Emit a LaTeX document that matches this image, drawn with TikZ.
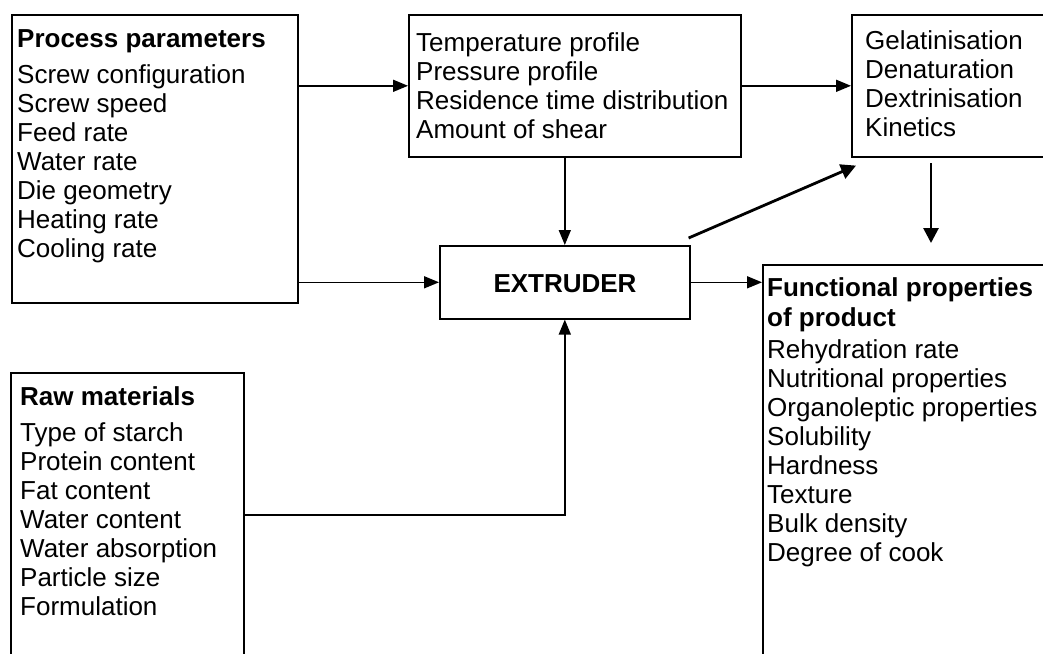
\documentclass[tikz,border=0pt]{standalone}
\usepackage{fontspec}
\setmainfont{Liberation Sans}
\usetikzlibrary{arrows.meta}
\newcommand{\firststrut}{\rule{0pt}{21pt}}
\tikzset{
  box/.style={draw=black, line width=1.6pt, rectangle, inner sep=0pt, anchor=north west},
  txt/.style={inner sep=0pt, anchor=north west, align=left, font=\fontsize{26}{29}\selectfont},
  conn/.style={draw=black, line width=1.6pt, -{Triangle[length=15pt,width=12pt]}},
  thickconn/.style={draw=black, line width=2.8pt, -{Triangle[length=15pt,width=15pt]}}
}
\begin{document}
\begin{tikzpicture}[x=1pt,y=-1pt]
\useasboundingbox (0,0) rectangle (1043,653);
\clip (0,0) rectangle (1043,653);
\fill[white] (0,0) rectangle (1043,653);

% boxes
\node[box, minimum width=286pt, minimum height=288pt] (proc) at (11,14) {};
\node[box, minimum width=332pt, minimum height=142pt] (cond) at (408,14) {};
\node[box, minimum width=200pt, minimum height=142pt] (react) at (851,14) {};
\node[box, minimum width=250pt, minimum height=73pt] (ext) at (439,245) {};
\node[box, minimum width=300pt, minimum height=440pt] (func) at (762,264) {};
\node[box, minimum width=233pt, minimum height=330pt] (raw) at (10,372) {};

% texts (first baseline = y + 21)
\node[txt] (proctxt) at (17,26) {\firststrut\textbf{Process parameters}\\[7pt]
Screw configuration\\ Screw speed\\ Feed rate\\ Water rate\\ Die geometry\\ Heating rate\\ Cooling rate};
\node[txt] (condtxt) at (416,30) {\firststrut Temperature profile\\ Pressure profile\\ Residence time distribution\\ Amount of shear};
\node[txt] (reacttxt) at (865,28) {\firststrut Gelatinisation\\ Denaturation\\ Dextrinisation\\ Kinetics};
\node[inner sep=0pt, anchor=base, font=\fontsize{26}{29}\selectfont\bfseries] (exttxt) at (565,292) {EXTRUDER};
\node[txt] (functxt) at (767,275) {\firststrut\textbf{Functional properties}\\[1pt]
\textbf{of product}\\[3pt]
Rehydration rate\\ Nutritional properties\\ Organoleptic properties\\ Solubility\\ Hardness\\ Texture\\ Bulk density\\ Degree of cook};
\node[txt] (rawtxt) at (20,384) {\firststrut\textbf{Raw materials}\\[7pt]
Type of starch\\ Protein content\\ Fat content\\ Water content\\ Water absorption\\ Particle size\\ Formulation};

% connectors
\path[conn] (proc.east |- cond.west) -- (cond.west);
\path[conn] (proc.east |- ext.west) -- (ext.west);
\path[conn] (cond.east) -- (react.west);
\path[conn] (cond.south -| ext.north) -- (ext.north);
\path[conn] (ext.east) -- (ext.east -| func.west);
\coordinate (rawout) at (243,515);
\path[conn] (rawout) -| (ext.south);
\path[thickconn] ([shift={(-2,-7)}]ext.north east) -- ([shift={(5,8)}]react.south west);
\coordinate (vtop) at (931,163);
\coordinate (vend) at (931,243);
\path[thickconn] (vtop) -- (vend);
\end{tikzpicture}
\end{document}
